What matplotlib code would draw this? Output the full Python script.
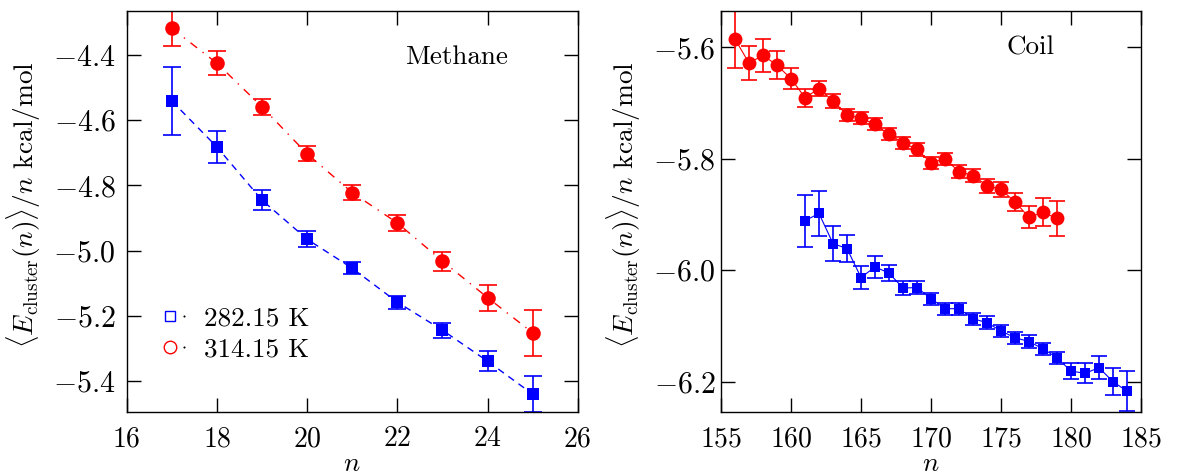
import matplotlib
matplotlib.use("Agg")
import matplotlib.pyplot as plt
from matplotlib.ticker import FuncFormatter, MultipleLocator
from matplotlib.lines import Line2D
from matplotlib.legend_handler import HandlerTuple

plt.rcParams['mathtext.fontset'] = 'cm'
plt.rcParams['font.family'] = 'serif'
plt.rcParams['font.serif'] = ['cmr10', 'DejaVu Serif']
plt.rcParams['axes.formatter.use_mathtext'] = True
plt.rcParams['axes.unicode_minus'] = True

# ---------------- Methane data ----------------
meth_n = [17, 18, 19, 20, 21, 22, 23, 24, 25]
meth_low = [-4.541, -4.682, -4.845, -4.965, -5.054, -5.158, -5.244, -5.339, -5.440]
meth_low_err = [0.103, 0.050, 0.031, 0.025, 0.018, 0.020, 0.023, 0.031, 0.056]
meth_high = [-4.318, -4.425, -4.559, -4.703, -4.822, -4.915, -5.032, -5.144, -5.252]
meth_high_err = [0.054, 0.036, 0.025, 0.023, 0.022, 0.024, 0.029, 0.040, 0.070]

# ---------------- Coil data ----------------
coil_n_high = list(range(156, 180))
coil_high = [-5.585, -5.628, -5.614, -5.632, -5.656, -5.690, -5.674, -5.696,
             -5.721, -5.727, -5.738, -5.756, -5.771, -5.783, -5.807, -5.800,
             -5.823, -5.830, -5.848, -5.855, -5.877, -5.905, -5.896, -5.907]
coil_high_err = [0.051, 0.031, 0.030, 0.025, 0.019, 0.016, 0.014, 0.012,
                 0.011, 0.011, 0.011, 0.011, 0.011, 0.011, 0.011, 0.011,
                 0.012, 0.012, 0.0125, 0.014, 0.016, 0.020, 0.025, 0.032]
coil_n_low = list(range(161, 185))
coil_low = [-5.911, -5.898, -5.952, -5.961, -6.013, -5.994, -6.005, -6.032,
            -6.031, -6.051, -6.069, -6.069, -6.087, -6.094, -6.109, -6.121,
            -6.128, -6.141, -6.157, -6.181, -6.185, -6.175, -6.200, -6.217]
coil_low_err = [0.047, 0.041, 0.032, 0.025, 0.021, 0.019, 0.014, 0.013,
                0.012, 0.011, 0.011, 0.011, 0.011, 0.011, 0.011, 0.011,
                0.011, 0.011, 0.011, 0.015, 0.018, 0.021, 0.024, 0.036]

labels = ['282.15 K', '314.15 K']
BLUE = '#0000ff'
RED = '#ff0000'
FS = 19.5
XTFS = 20
YTFS = 21.5

fig = plt.figure(figsize=(11.95, 4.76), dpi=100)
ax1 = fig.add_axes([126.7 / 1195, (476 - 412) / 476, 451 / 1195, 401.3 / 476])
ax2 = fig.add_axes([721 / 1195, (476 - 412.3) / 476, 420 / 1195, 401.6 / 476])

fmt1 = FuncFormatter(lambda v, p: f'${v:.1f}$')
fmti = FuncFormatter(lambda v, p: f'${v:.0f}$')
ebkw = dict(fmt='none', elinewidth=1.2, capthick=1.2)

# ---- left panel ----
ax1.plot(meth_n, meth_low, color=BLUE, lw=1.0, dashes=(5, 4))
ax1.plot(meth_n, meth_high, color=RED, lw=1.0, dashes=(6, 5, 1, 5))
ax1.errorbar(meth_n, meth_low, yerr=meth_low_err, ecolor=BLUE, capsize=6.8, **ebkw)
ax1.errorbar(meth_n, meth_high, yerr=meth_high_err, ecolor=RED, capsize=6.8, **ebkw)
ax1.plot(meth_n, meth_low, ls='none', marker='s', ms=8, color=BLUE, mew=0)
ax1.plot(meth_n, meth_high, ls='none', marker='o', ms=10.5, color=RED, mew=0)
ax1.set_xlim(16, 26)
ax1.set_ylim(-5.495, -4.264)
ax1.xaxis.set_major_locator(MultipleLocator(2))
ax1.yaxis.set_major_locator(MultipleLocator(0.2))
ax1.yaxis.set_major_formatter(fmt1)
ax1.xaxis.set_major_formatter(fmti)
ax1.text(0.617, 0.885, 'Methane', transform=ax1.transAxes, fontsize=FS,
         ha='left', va='center')

h_low = (Line2D([], [], ls='none', marker='s', ms=7, mfc='none', mec=BLUE, mew=1.0),
         Line2D([], [], ls='none', marker='o', ms=1.5, color='k', mew=0))
h_high = (Line2D([], [], ls='none', marker='o', ms=9, mfc='none', mec=RED, mew=1.0),
          Line2D([], [], ls='none', marker='o', ms=1.5, color='k', mew=0))
ax1.legend([h_low, h_high], labels, handler_map={tuple: HandlerTuple(ndivide=None, pad=0)},
           loc='center left', bbox_to_anchor=(0.082, 0.195), frameon=False,
           fontsize=FS, handlelength=1.0, handletextpad=0.5, labelspacing=0.25,
           borderpad=0, borderaxespad=0)

# ---- right panel ----
ax2.plot(coil_n_high, coil_high, color=RED, lw=0.8)
ax2.plot(coil_n_low, coil_low, color=BLUE, lw=0.8)
ax2.errorbar(coil_n_high, coil_high, yerr=coil_high_err, ecolor=RED, capsize=6.1, **ebkw)
ax2.errorbar(coil_n_low, coil_low, yerr=coil_low_err, ecolor=BLUE, capsize=6.1, **ebkw)
ax2.plot(coil_n_high, coil_high, ls='none', marker='o', ms=10, color=RED, mew=0)
ax2.plot(coil_n_low, coil_low, ls='none', marker='s', ms=7.2, color=BLUE, mew=0)
ax2.set_xlim(155, 185)
ax2.set_ylim(-6.255, -5.534)
ax2.xaxis.set_major_locator(MultipleLocator(5))
ax2.yaxis.set_major_locator(MultipleLocator(0.2))
ax2.yaxis.set_major_formatter(fmt1)
ax2.xaxis.set_major_formatter(fmti)
ax2.text(0.738, 0.907, 'Coil', transform=ax2.transAxes, fontsize=FS,
         ha='center', va='center')

ylab = r'$\langle E_{\mathrm{cluster}}(n)\rangle/n$ kcal/mol'
for ax, ypad, lx, ly in ((ax1, 8, -0.2277, 0.518), (ax2, 4, -0.231, 0.516)):
    ax.tick_params(which='major', direction='in', length=10, width=1.0,
                   top=True, right=True)
    ax.tick_params(axis='y', pad=ypad, labelsize=YTFS)
    ax.tick_params(axis='x', pad=10, labelsize=XTFS)
    for s in ax.spines.values():
        s.set_linewidth(1.0)
    ax.set_xlabel(r'$n$', fontsize=FS, labelpad=0)
    ax.set_ylabel(ylab, fontsize=FS)
    ax.yaxis.set_label_coords(lx, ly)
    ax.yaxis.label.set_verticalalignment('center')
    ax.yaxis.label.set_horizontalalignment('center')

# fit the y-label length to the reference (about 287 px tall)
fig.canvas.draw()
r = fig.canvas.get_renderer()
for ax in (ax1, ax2):
    h = ax.yaxis.label.get_window_extent(r).height
    ax.yaxis.label.set_fontsize(FS * 287.0 / h)

fig.savefig('out.png', dpi=100)
